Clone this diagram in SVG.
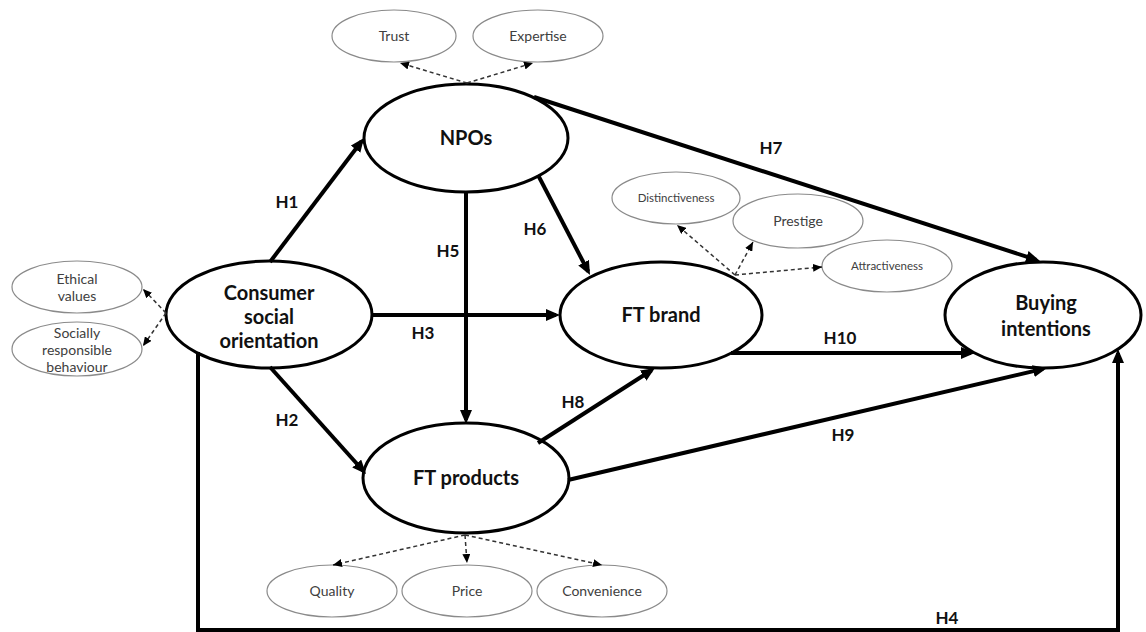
<svg xmlns="http://www.w3.org/2000/svg" width="1146" height="632" viewBox="0 0 1146 632">
<defs>
<marker id="ah" markerUnits="userSpaceOnUse" markerWidth="14" markerHeight="12" refX="10" refY="6" orient="auto">
<path d="M0,0 L14,6 L0,12 z" fill="#000"/>
</marker>
<marker id="dh" markerUnits="userSpaceOnUse" markerWidth="9" markerHeight="8" refX="9" refY="4" orient="auto">
<path d="M0,0 L9,4 L0,8 z" fill="#000"/>
</marker>
</defs>
<style>
.main ellipse{fill:#fff;stroke:#000;stroke-width:3}
.sub ellipse{fill:#fff;stroke:#8a8a8a;stroke-width:1.2}
.mt{font-family:Lato,"Open Sans",sans-serif;font-weight:bold;font-size:20px;fill:#111;text-anchor:middle}
.st{font-family:Lato,"Open Sans",sans-serif;font-size:14px;fill:#404040;text-anchor:middle}
.sts{font-family:Lato,"Open Sans",sans-serif;font-size:11.5px;fill:#404040;text-anchor:middle}
.lbl{font-family:Lato,"Open Sans",sans-serif;font-weight:bold;font-size:17px;fill:#111;text-anchor:middle}
.th{fill:none;stroke:#000;stroke-width:4;marker-end:url(#ah)}
.ds{fill:none;stroke:#333;stroke-width:1.5;stroke-dasharray:4 3;marker-end:url(#dh)}
</style>
<rect width="1146" height="632" fill="#fff"/>

<g id="consumer" class="main">
<ellipse cx="269" cy="314.5" rx="103" ry="53.5"/>
<text class="mt" x="269" y="300">Consumer</text>
<text class="mt" x="269" y="324">social</text>
<text class="mt" x="269" y="348">orientation</text>
</g>
<g id="npos" class="main">
<ellipse cx="466" cy="138" rx="102" ry="54"/>
<text class="mt" x="466" y="145">NPOs</text>
</g>
<g id="ftbrand" class="main">
<ellipse cx="661" cy="315" rx="101" ry="53"/>
<text class="mt" x="661" y="322">FT brand</text>
</g>
<g id="ftproducts" class="main">
<ellipse cx="466" cy="478" rx="103" ry="55"/>
<text class="mt" x="466" y="485">FT products</text>
</g>
<g id="buying" class="main">
<ellipse cx="1043" cy="315" rx="98" ry="53"/>
<text class="mt" x="1046" y="310">Buying</text>
<text class="mt" x="1046" y="336">intentions</text>
</g>

<g id="ethical" class="sub">
<ellipse cx="77" cy="287" rx="65" ry="26"/>
<text class="st" x="77" y="284">Ethical</text>
<text class="st" x="77" y="301">values</text>
</g>
<g id="socially" class="sub">
<ellipse cx="77" cy="349" rx="65" ry="27"/>
<text class="st" x="77" y="338">Socially</text>
<text class="st" x="77" y="355">responsible</text>
<text class="st" x="77" y="372">behaviour</text>
</g>
<g id="trust" class="sub">
<ellipse cx="394" cy="36" rx="62" ry="26"/>
<text class="st" x="394" y="41">Trust</text>
</g>
<g id="expertise" class="sub">
<ellipse cx="538" cy="36" rx="65" ry="26"/>
<text class="st" x="538" y="41">Expertise</text>
</g>
<g id="distinctiveness" class="sub">
<ellipse cx="676" cy="198" rx="64" ry="26"/>
<text class="sts" x="676" y="202">Distinctiveness</text>
</g>
<g id="prestige" class="sub">
<ellipse cx="798" cy="221" rx="65" ry="27"/>
<text class="st" x="798" y="226">Prestige</text>
</g>
<g id="attractiveness" class="sub">
<ellipse cx="887" cy="266" rx="65" ry="26"/>
<text class="sts" x="887" y="270">Attractiveness</text>
</g>
<g id="quality" class="sub">
<ellipse cx="332" cy="591" rx="65" ry="26"/>
<text class="st" x="332" y="596">Quality</text>
</g>
<g id="price" class="sub">
<ellipse cx="467" cy="591" rx="65" ry="26"/>
<text class="st" x="467" y="596">Price</text>
</g>
<g id="convenience" class="sub">
<ellipse cx="602" cy="591" rx="65" ry="26"/>
<text class="st" x="602" y="596">Convenience</text>
</g>

<g id="connectors">
<line class="th" x1="270" y1="262" x2="361.6" y2="141.2"/>
<line class="th" x1="270" y1="367" x2="363.4" y2="471"/>
<line class="th" x1="372" y1="315" x2="556" y2="315"/>
<line class="th" x1="466" y1="191" x2="466" y2="420"/>
<line class="th" x1="538" y1="175" x2="588.2" y2="271.5"/>
<line class="th" x1="534" y1="97" x2="1036.2" y2="259.8"/>
<line class="th" x1="538" y1="443" x2="651.6" y2="370.2"/>
<line class="th" x1="568" y1="480" x2="1043.1" y2="368.9"/>
<line class="th" x1="731" y1="353" x2="971" y2="353"/>
<polyline class="th" points="198,352 198,630 1118,630 1118,353" stroke-linejoin="miter"/>

<line class="ds" x1="166" y1="313" x2="143" y2="289"/>
<line class="ds" x1="166" y1="313" x2="143" y2="346"/>
<line class="ds" x1="467" y1="83" x2="400" y2="63"/>
<line class="ds" x1="467" y1="83" x2="533" y2="63"/>
<line class="ds" x1="735" y1="275" x2="677" y2="225"/>
<line class="ds" x1="735" y1="275" x2="753" y2="242"/>
<line class="ds" x1="735" y1="275" x2="822" y2="267"/>
<line class="ds" x1="465" y1="535" x2="333" y2="565"/>
<line class="ds" x1="465" y1="535" x2="467" y2="563"/>
<line class="ds" x1="465" y1="535" x2="602" y2="565"/>

<text class="lbl" x="287" y="208">H1</text>
<text class="lbl" x="287" y="426">H2</text>
<text class="lbl" x="423" y="339">H3</text>
<text class="lbl" x="947" y="624">H4</text>
<text class="lbl" x="448" y="257">H5</text>
<text class="lbl" x="535" y="235">H6</text>
<text class="lbl" x="771" y="154">H7</text>
<text class="lbl" x="573" y="408">H8</text>
<text class="lbl" x="843" y="441">H9</text>
<text class="lbl" x="840" y="344">H10</text>
</g>
</svg>
